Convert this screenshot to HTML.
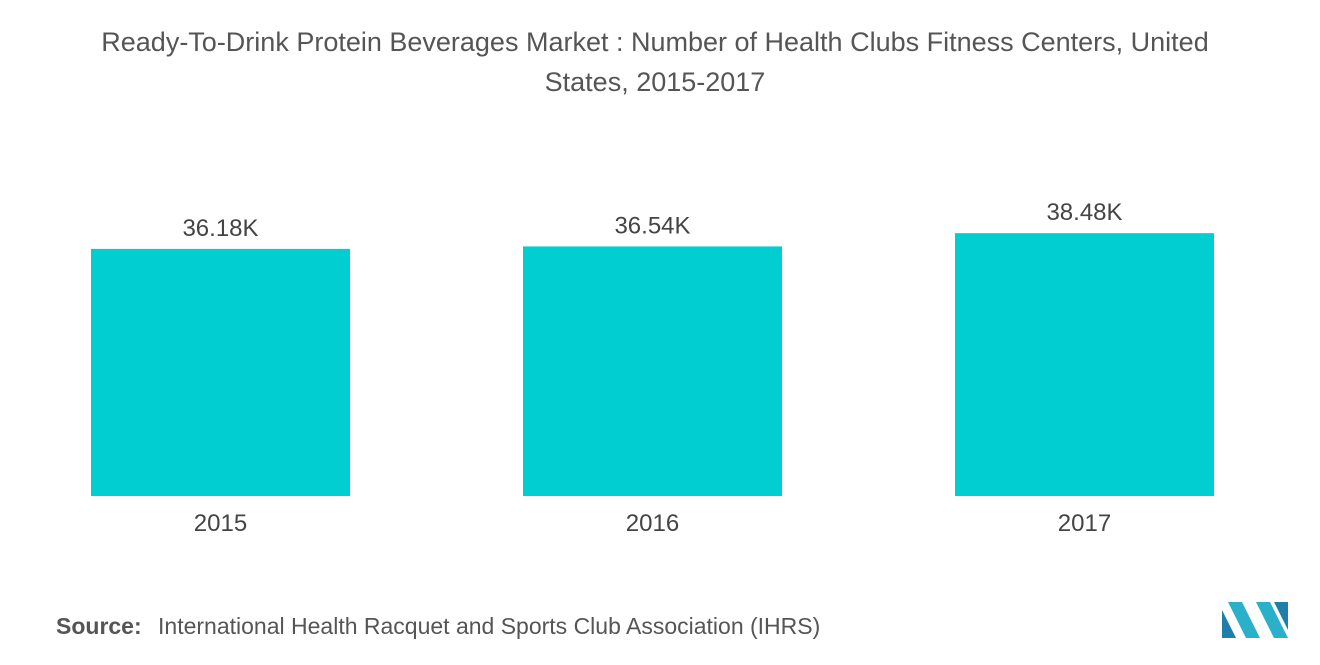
<!DOCTYPE html>
<html><head><meta charset="utf-8"><style>
body{margin:0;width:1320px;height:665px;background:#fff;font-family:"Liberation Sans",sans-serif;overflow:hidden;position:relative}
.title{position:absolute;left:0;top:22px;width:1310px;text-align:center;font-size:27px;line-height:40px;color:#555}
.src{position:absolute;left:56px;top:613px;font-size:23px;color:#555}
.src b{font-weight:bold;color:#555;margin-right:10px}
</style></head><body>
<div class="title">Ready-To-Drink Protein Beverages Market : Number of Health Clubs Fitness Centers, United<br>States, 2015-2017</div>
<svg id="chart" width="1320" height="600" style="position:absolute;left:0;top:0"></svg>
<div class="src"><b>Source:</b> International Health Racquet and Sports Club Association (IHRS)</div>
<svg width="70" height="36" style="position:absolute;left:1222px;top:602px">
<polygon points="0,36 0,8 14,36" fill="#1f7fa8"/><polygon points="6,0 20,0 38,36 24,36" fill="#2ab0c9"/>
<polygon points="34,0 48,0 66,36 52,36" fill="#2ab0c9"/><polygon points="52,0 66,0 66,28" fill="#1f7fa8"/>
</svg>
<script>
const categories=["2015","2016","2017"];
const values=[36.18,36.54,38.48];
const labels=["36.18K","36.54K","38.48K"];
const svg=document.getElementById('chart');
const NS='http://www.w3.org/2000/svg';
const baseY=496,scale=6.83,barW=259,x0=91,step=432;
function xPos(i){return x0+i*step;}
function yPos(v){return baseY-v*scale;}
categories.forEach((c,i)=>{
  const r=document.createElementNS(NS,'rect');
  r.setAttribute('x',xPos(i));r.setAttribute('y',yPos(values[i]));
  r.setAttribute('width',barW);r.setAttribute('height',baseY-yPos(values[i]));
  r.setAttribute('fill','#00ced1');
  
  
  svg.appendChild(r);
  const t=document.createElementNS(NS,'text');
  t.setAttribute('x',xPos(i)+barW/2);t.setAttribute('y',yPos(values[i])-13);
  t.setAttribute('text-anchor','middle');t.setAttribute('font-size','24');t.setAttribute('fill','#444');
  t.textContent=labels[i];
  
  
  svg.appendChild(t);
  const a=document.createElementNS(NS,'text');
  a.setAttribute('x',xPos(i)+barW/2);a.setAttribute('y',531);
  a.setAttribute('text-anchor','middle');a.setAttribute('font-size','24');a.setAttribute('fill','#444');
  a.textContent=c;
  
  
  svg.appendChild(a);
});
</script>
</body></html>
